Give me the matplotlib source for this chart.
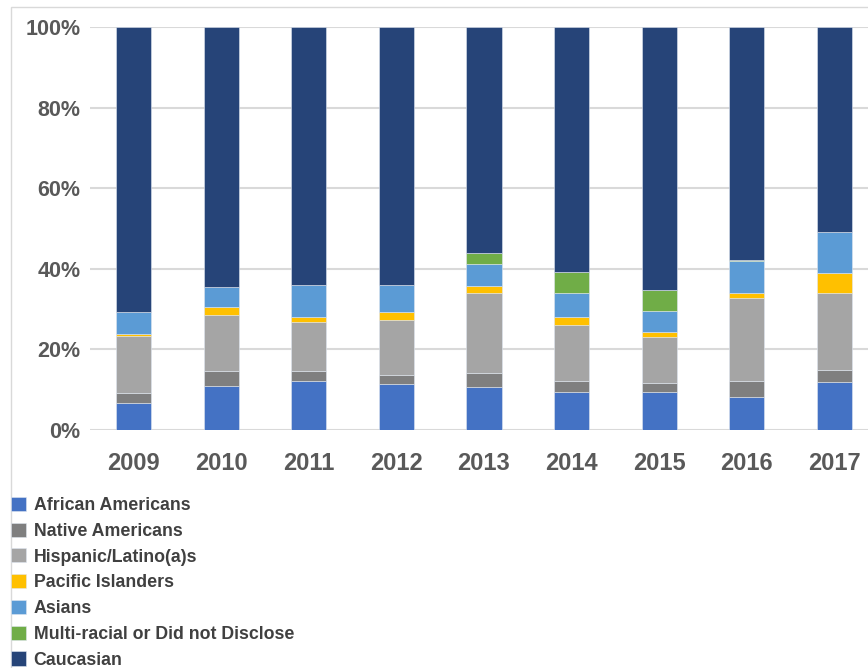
import matplotlib
matplotlib.use("Agg")
import matplotlib.pyplot as plt
from matplotlib.patches import Rectangle
import numpy as np

plt.rcParams['font.family'] = ['Liberation Sans', 'DejaVu Sans']

years = ["2009", "2010", "2011", "2012", "2013", "2014", "2015", "2016", "2017"]
african = [6.8, 10.8, 12.1, 11.5, 10.7, 9.4, 9.4, 8.2, 11.8]
native = [2.4, 3.8, 2.5, 2.1, 3.5, 2.7, 2.3, 3.9, 3.1]
hispanic = [14.1, 14.0, 12.3, 13.8, 19.9, 14.0, 11.5, 20.6, 19.2]
pacific = [0.6, 1.8, 1.1, 2.0, 1.7, 2.0, 1.1, 1.2, 4.9]
asian = [5.4, 5.0, 8.1, 6.5, 5.3, 5.8, 5.2, 8.0, 10.2]
multi = [0.0, 0.0, 0.0, 0.0, 2.8, 5.2, 5.3, 0.2, 0.0]
caucasian = [70.7, 64.6, 63.9, 64.1, 56.1, 60.9, 65.2, 57.9, 50.8]

series = [
    ("African Americans", african, "#4472C4"),
    ("Native Americans", native, "#7F7F7F"),
    ("Hispanic/Latino(a)s", hispanic, "#A5A5A5"),
    ("Pacific Islanders", pacific, "#FFC000"),
    ("Asians", asian, "#5B9BD5"),
    ("Multi-racial or Did not Disclose", multi, "#70AD47"),
    ("Caucasian", caucasian, "#264478"),
]

fig = plt.figure(figsize=(8.68, 6.68), dpi=100)
ax = fig.add_axes([90 / 868, (668 - 430) / 668, 788 / 868, 403 / 668])

x = np.arange(len(years))
bottom = np.zeros(len(years))
handles = []
for name, vals, col in series:
    vals = np.array(vals) / 100.0
    b = ax.bar(x, vals, 0.4, bottom=bottom, color=col, label=name,
               edgecolor="#dfe6f0", linewidth=0.4, zorder=3)
    handles.append(b)
    bottom += vals

ax.set_xlim(-0.5, 8.5)
ax.set_ylim(0, 1.0)
ax.set_yticks([0, 0.2, 0.4, 0.6, 0.8, 1.0])
ax.set_yticklabels(["0%", "20%", "40%", "60%", "80%", "100%"])
ax.set_xticks(x)
ax.set_xticklabels(years)
ax.grid(axis="y", color="#d9d9d9", linewidth=1.5, zorder=0)
for s in ax.spines.values():
    s.set_visible(False)
ax.tick_params(length=0)
ax.tick_params(axis="y", labelsize=15.5, labelcolor="#595959", pad=7)
ax.tick_params(axis="x", labelsize=17, labelcolor="#595959", pad=16)
for t in ax.get_xticklabels() + ax.get_yticklabels():
    t.set_fontweight("bold")

leg = fig.legend(handles=handles, loc="upper left", bbox_to_anchor=(0.004, 0.267),
                 frameon=False, fontsize=12.8, handlelength=0.85, handleheight=0.85,
                 handletextpad=0.45, labelspacing=0.48, borderaxespad=0)
for t in leg.get_texts():
    t.set_color("#404040")
    t.set_fontweight("bold")

fig.patches.append(Rectangle((11 / 868, -0.01), 1.0, 1.0 - 7 / 668 + 0.01,
                             transform=fig.transFigure, fill=False,
                             edgecolor="#d9d9d9", linewidth=1.0))

fig.savefig("out.png", dpi=100)
